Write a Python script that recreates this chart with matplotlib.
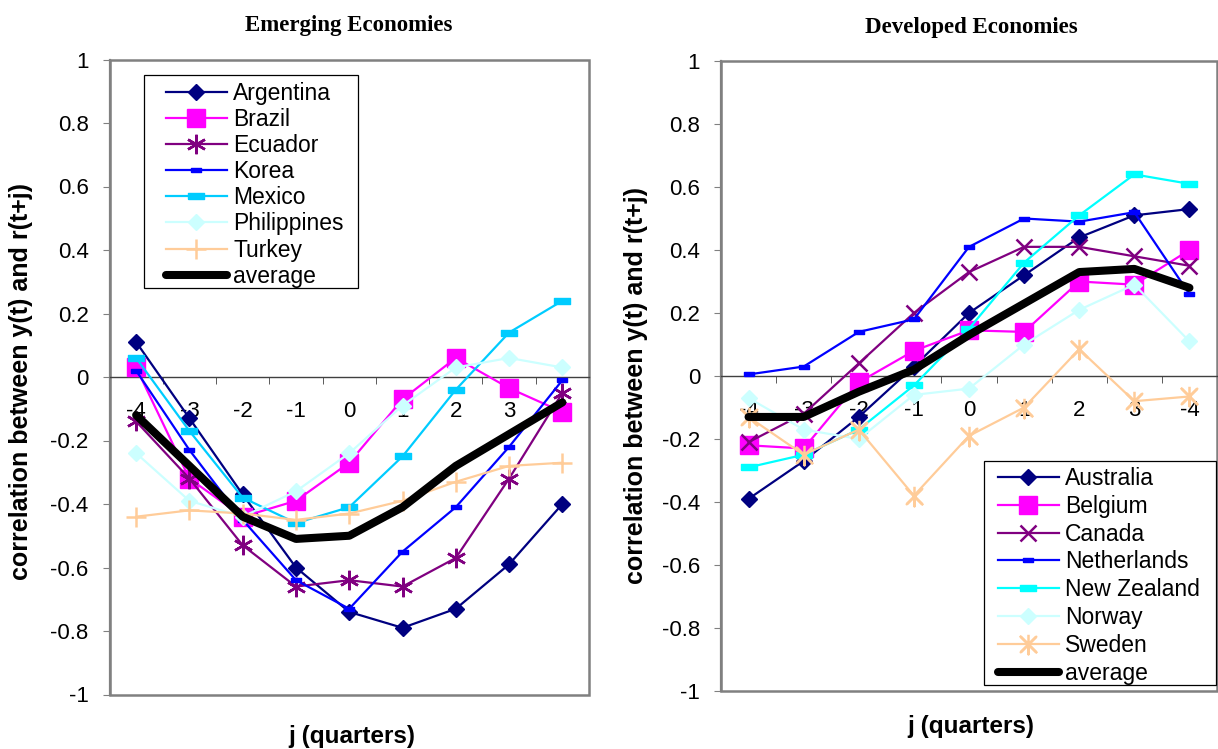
import matplotlib
matplotlib.use("Agg")
import matplotlib.pyplot as plt
from matplotlib.patches import Rectangle
import numpy as np

plt.rcParams['font.family'] = ['Liberation Sans', 'DejaVu Sans']

# ---------------- data ----------------
left_xlabels = ["-4", "-3", "-2", "-1", "0", "1", "2", "3", "4"]
right_xlabels = ["-4", "-3", "-2", "-1", "0", "1", "2", "3", "-4"]
ytick_vals = [1, 0.8, 0.6, 0.4, 0.2, 0, -0.2, -0.4, -0.6, -0.8, -1]
ytick_labels = ["1", "0.8", "0.6", "0.4", "0.2", "0", "-0.2", "-0.4", "-0.6", "-0.8", "-1"]

argentina = [0.11, -0.13, -0.37, -0.60, -0.74, -0.79, -0.73, -0.59, -0.40]
brazil = [0.03, -0.32, -0.44, -0.39, -0.27, -0.07, 0.06, -0.035, -0.11]
ecuador = [-0.14, -0.32, -0.53, -0.66, -0.64, -0.66, -0.57, -0.32, -0.05]
korea = [0.02, -0.23, -0.45, -0.64, -0.73, -0.55, -0.41, -0.22, -0.01]
mexico = [0.06, -0.17, -0.38, -0.46, -0.41, -0.25, -0.04, 0.14, 0.24]
philippines = [-0.24, -0.39, -0.44, -0.36, -0.24, -0.09, 0.03, 0.06, 0.03]
turkey = [-0.44, -0.42, -0.43, -0.45, -0.43, -0.39, -0.33, -0.28, -0.27]
emerging_avg = [-0.12, -0.28, -0.44, -0.51, -0.50, -0.41, -0.28, -0.18, -0.08]

australia = [-0.39, -0.27, -0.13, 0.03, 0.20, 0.32, 0.44, 0.51, 0.53]
belgium = [-0.22, -0.23, -0.02, 0.08, 0.145, 0.14, 0.30, 0.29, 0.40]
canada = [-0.21, -0.12, 0.04, 0.20, 0.33, 0.41, 0.41, 0.38, 0.35]
netherlands = [0.005, 0.03, 0.14, 0.18, 0.41, 0.50, 0.49, 0.52, 0.26]
new_zealand = [-0.29, -0.25, -0.17, -0.03, 0.15, 0.36, 0.51, 0.64, 0.61]
norway = [-0.07, -0.17, -0.20, -0.06, -0.04, 0.10, 0.21, 0.29, 0.11]
sweden = [-0.13, -0.25, -0.17, -0.38, -0.19, -0.10, 0.085, -0.08, -0.065]
developed_avg = [-0.13, -0.13, -0.05, 0.02, 0.13, 0.23, 0.33, 0.34, 0.28]

# ---------------- styles ----------------
NAVY, MAGENTA, PURPLE, BLUE = "#000080", "#FF00FF", "#800080", "#0000FF"
SKY, CYAN, PALE, PEACH = "#00CCFF", "#00FFFF", "#CCFFFF", "#FFCC99"
dash_small = [(-1, -0.45), (1, -0.45), (1, 0.45), (-1, 0.45), (-1, -0.45)]
dash_big = [(-1, -0.38), (1, -0.38), (1, 0.38), (-1, 0.38), (-1, -0.38)]
star = [(0, 1), (0, -1), (0, 0), (0.8, 0.8), (-0.8, -0.8), (0, 0), (0.8, -0.8), (-0.8, 0.8), (0, 0)]

left_series = [
    ("Argentina", argentina, dict(color=NAVY, marker="D", ms=8.5, mec=NAVY, mfc=NAVY)),
    ("Brazil", brazil, dict(color=MAGENTA, marker="s", ms=12.5, mec=MAGENTA, mfc=MAGENTA)),
    ("Ecuador", ecuador, dict(color=PURPLE, marker=(6, 2, 0), ms=14, mew=1.8, mec=PURPLE)),
    ("Korea", korea, dict(color=BLUE, marker=dash_small, ms=7, mec=BLUE, mfc=BLUE)),
    ("Mexico", mexico, dict(color=SKY, marker=dash_big, ms=11, mec=SKY, mfc=SKY)),
    ("Philippines", philippines, dict(color=PALE, marker="D", ms=8.5, mec=PALE, mfc=PALE)),
    ("Turkey", turkey, dict(color=PEACH, marker="+", ms=14, mew=1.8, mec=PEACH)),
]
right_series = [
    ("Australia", australia, dict(color=NAVY, marker="D", ms=8.5, mec=NAVY, mfc=NAVY)),
    ("Belgium", belgium, dict(color=MAGENTA, marker="s", ms=12.5, mec=MAGENTA, mfc=MAGENTA)),
    ("Canada", canada, dict(color=PURPLE, marker="x", ms=12, mew=1.8, mec=PURPLE)),
    ("Netherlands", netherlands, dict(color=BLUE, marker=dash_small, ms=7, mec=BLUE, mfc=BLUE)),
    ("New Zealand", new_zealand, dict(color=CYAN, marker=dash_big, ms=11, mec=CYAN, mfc=CYAN)),
    ("Norway", norway, dict(color=PALE, marker="D", ms=8.5, mec=PALE, mfc=PALE)),
    ("Sweden", sweden, dict(color=PEACH, marker=star, ms=14, mew=1.8, mec=PEACH)),
]

W, H = 1218, 749
fig = plt.figure(figsize=(W / 100, H / 100), dpi=100)


def px_axes(x0, x1, y0, y1):
    return fig.add_axes([x0 / W, 1 - y1 / H, (x1 - x0) / W, (y1 - y0) / H])


ax1 = px_axes(109.5, 589, 59.5, 694.5)
ax2 = px_axes(721, 1217, 61, 691)

LEG_FS = 16.5


def setup(ax, series, avg, xlabels, legend_anchor, labelspacing, box):
    x = np.arange(len(xlabels))
    for name, vals, st in series:
        ax.plot(x, vals, lw=1.6, label=name, clip_on=False, zorder=3, **st)
    ax.plot(x, avg, color="black", lw=5.8, label="average", solid_capstyle="round",
            clip_on=False, zorder=3.5)
    ax.set_xlim(-0.5, len(xlabels) - 0.5)
    ax.set_ylim(-1, 1)
    for s in ["top", "right"]:
        ax.spines[s].set_visible(False)
    ax.spines["left"].set_color("#808080")
    ax.spines["left"].set_linewidth(1.6)
    ax.spines["bottom"].set_position(("data", 0))
    ax.spines["bottom"].set_color("#404040")
    ax.spines["bottom"].set_linewidth(1.0)
    ax.add_patch(Rectangle((0, 0), 1, 1, transform=ax.transAxes, fill=False,
                           edgecolor="#808080", lw=1.8, clip_on=False, zorder=1))
    ax.set_xticks(x)
    ax.set_xticklabels(xlabels, fontsize=16)
    ax.set_xticks(np.arange(0.5, len(xlabels) - 1, 1.0), minor=True)
    ax.tick_params(axis="x", which="major", length=0, pad=17)
    ax.tick_params(axis="x", which="minor", length=5, direction="out", color="#404040")
    ax.set_yticks(ytick_vals)
    ax.set_yticklabels(ytick_labels, fontsize=16)
    ax.tick_params(axis="y", length=5, direction="out", color="#808080", pad=10)
    # legend box (frame) drawn as a patch under the frameless legend
    bx0, bx1, by0, by1 = box
    ax.add_patch(Rectangle((bx0 / W, 1 - by1 / H), (bx1 - bx0) / W, (by1 - by0) / H,
                           transform=fig.transFigure, facecolor="white",
                           edgecolor="black", lw=0.9, clip_on=False, zorder=4.5))
    lx, ly = legend_anchor
    leg = ax.legend(fontsize=LEG_FS, frameon=False, handlelength=2.66, handletextpad=0.27,
                    labelspacing=labelspacing, borderpad=0, borderaxespad=0,
                    loc="upper left", bbox_to_anchor=(lx / W, 1 - ly / H),
                    bbox_transform=fig.transFigure)
    leg.set_zorder(5)


setup(ax1, left_series, emerging_avg, left_xlabels, (166, 82), 0.135, (144, 358, 75, 288))
setup(ax2, right_series, developed_avg, right_xlabels, (998, 467), 0.21, (984, 1216, 461, 685))

fig.text(349 / W, 1 - 25 / H, "Emerging Economies", ha="center", va="center",
         fontsize=16.5, fontweight="bold", family="Liberation Serif")
fig.text(971 / W, 1 - 28 / H, "Developed Economies", ha="center", va="center",
         fontsize=16.5, fontweight="bold", family="Liberation Serif")
ylab = "correlation between y(t) and r(t+j)"
fig.text(21 / W, 1 - 382 / H, ylab, rotation=90, ha="center", va="center",
         fontsize=18, fontweight="bold")
fig.text(636 / W, 1 - 385 / H, ylab, rotation=90, ha="center", va="center",
         fontsize=18, fontweight="bold")
fig.text(352 / W, 1 - 737 / H, "j (quarters)", ha="center", va="center",
         fontsize=17.5, fontweight="bold")
fig.text(971 / W, 1 - 727 / H, "j (quarters)", ha="center", va="center",
         fontsize=17.5, fontweight="bold")

fig.savefig("out.png", dpi=100)
